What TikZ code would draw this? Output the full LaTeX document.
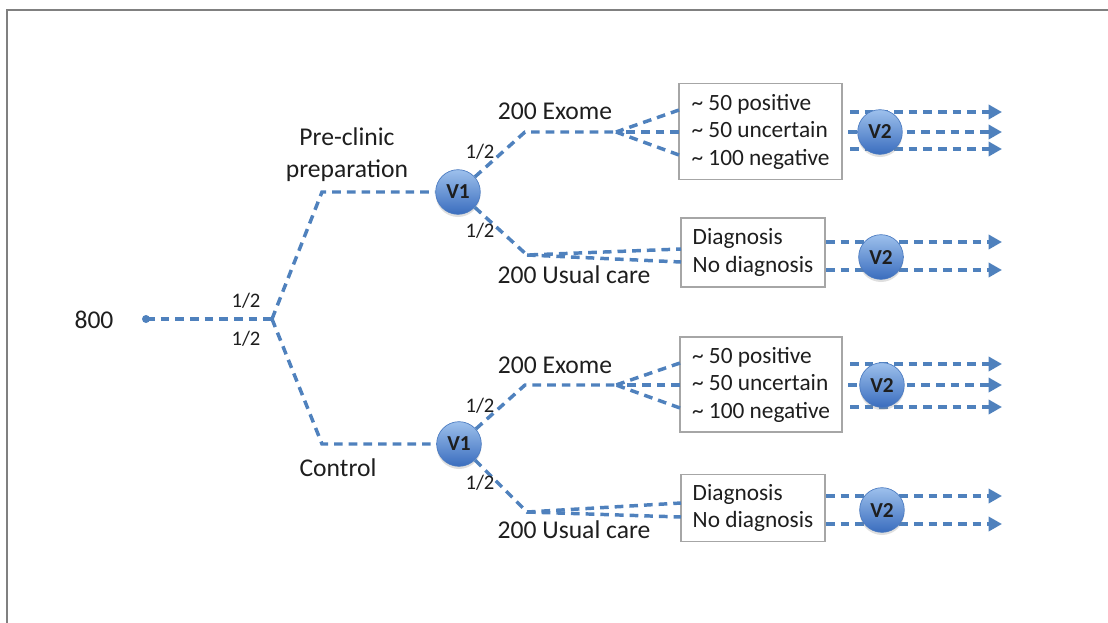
\documentclass[tikz,border=0pt]{standalone}
\usepackage{fontspec}
\setmainfont{Carlito}
\usetikzlibrary{arrows.meta,shadows}
\definecolor{flowblue}{HTML}{4F81BD}
\definecolor{framegray}{HTML}{808080}
\definecolor{boxgray}{HTML}{A6A6A6}
\definecolor{inkgray}{HTML}{1E1E1E}
\definecolor{balltop}{HTML}{9DC0EC}
\definecolor{ballbottom}{HTML}{3A6DBE}
\definecolor{ballrim}{HTML}{4A7AC0}
\begin{document}
\begin{tikzpicture}[x=0.75pt,y=-0.75pt,
  flow/.style={draw=flowblue, line width=2.6pt, dash pattern=on 6.5pt off 4.5pt},
  tipped/.style={-{Triangle[length=10pt,width=10.5pt]}},
  fantip/.style={-{Triangle[length=5pt,width=6pt]}},
  label/.style={font=\fontsize{19.2}{24}\selectfont, text=inkgray, inner sep=0pt, anchor=base},
  half/.style={font=\fontsize{15.5}{18}\selectfont, text=inkgray, inner sep=0pt, anchor=base},
  visit/.style={circle, minimum size=33.5pt, inner sep=0pt, top color=balltop,
    bottom color=ballbottom, draw=ballrim, line width=0.5pt, text=inkgray,
    font=\bfseries\fontsize{16}{18}\selectfont,
    drop shadow={shadow xshift=0pt, shadow yshift=-2pt, opacity=0.25}},
  outcome/.style={draw=boxgray, line width=0.9pt, fill=white, align=left,
    inner sep=0pt, font=\fontsize{17.5}{20.6}\selectfont, text=inkgray},
  startdot/.style={circle, fill=flowblue, minimum size=6pt, inner sep=0pt}
]
\useasboundingbox (0,0) rectangle (1108,622);

% frame
\draw[framegray, line width=1.6pt] (7,630) -- (7,10) -- (1115,10);

% ---------- nodes ----------
\node[startdot] (start) at (146,319) {};
\node[label] (n800) at (94,328) {800};
\coordinate (split) at (272,319);
\coordinate (upbend) at (322,192);
\coordinate (lobend) at (322,444);

\node[visit] (v1a) at (458,192) {V1};
\node[visit] (v1b) at (459,444) {V1};

\node[outcome, minimum width=163*0.75pt, minimum height=96*0.75pt] (box1) at (760.5,131.5)
  {\textasciitilde\ 50 positive\\ \textasciitilde\ 50 uncertain\\ \textasciitilde\ 100 negative};
\node[outcome, minimum width=144*0.75pt, minimum height=69*0.75pt] (box2) at (753,252.5)
  {Diagnosis\\ No diagnosis};
\node[outcome, minimum width=162*0.75pt, minimum height=95*0.75pt] (box3) at (761,384.5)
  {\textasciitilde\ 50 positive\\ \textasciitilde\ 50 uncertain\\ \textasciitilde\ 100 negative};
\node[outcome, minimum width=144*0.75pt, minimum height=67*0.75pt] (box4) at (753,508)
  {Diagnosis\\ No diagnosis};

% bends and fan points
\coordinate (exbend1) at (525,132);
\coordinate (fan1) at (616,132);
\coordinate (ucbend1) at (527,255);
\coordinate (exbend2) at (525,385);
\coordinate (fan2) at (616,385);
\coordinate (ucbend2) at (527,512);

% box inlets
\coordinate (b1u) at (679,110);
\coordinate (b1m) at (679,132);
\coordinate (b1l) at (679,155);
\coordinate (b2u) at (681,249);
\coordinate (b2l) at (681,262);
\coordinate (b3u) at (680,363);
\coordinate (b3m) at (680,385);
\coordinate (b3l) at (680,408);
\coordinate (b4u) at (681,503);
\coordinate (b4l) at (681,517);

% outlets and arrow ends
\coordinate (o1a) at (850,112);  \coordinate (e1a) at (1002,112);
\coordinate (o1b) at (848,132);  \coordinate (e1b) at (1002,132);
\coordinate (o1c) at (850,149);  \coordinate (e1c) at (1002,149);
\coordinate (o2a) at (826,242);  \coordinate (e2a) at (1002,242);
\coordinate (o2b) at (826,270);  \coordinate (e2b) at (1002,270);
\coordinate (o3a) at (850,364);  \coordinate (e3a) at (1002,364);
\coordinate (o3b) at (848,385);  \coordinate (e3b) at (1002,385);
\coordinate (o3c) at (850,407);  \coordinate (e3c) at (1002,407);
\coordinate (o4a) at (826,496);  \coordinate (e4a) at (1002,496);
\coordinate (o4b) at (826,524);  \coordinate (e4b) at (1002,524);

% ---------- connectors ----------
\draw[flow] (start.center) -- (split);
\draw[flow] (split) -- (upbend) -- (v1a);
\draw[flow] (split) -- (lobend) -- (v1b);

\draw[flow] (v1a) -- (exbend1) -- (fan1);
\draw[flow] (b1u) -- (fan1);
\draw[flow, fantip] (b1m) -- (fan1);
\draw[flow] (b1l) -- (fan1);
\draw[flow] (v1a) -- (ucbend1) -- (b2u);
\draw[flow] (ucbend1) -- (b2l);

\draw[flow] (v1b) -- (exbend2) -- (fan2);
\draw[flow] (b3u) -- (fan2);
\draw[flow, fantip] (b3m) -- (fan2);
\draw[flow] (b3l) -- (fan2);
\draw[flow] (v1b) -- (ucbend2) -- (b4u);
\draw[flow] (ucbend2) -- (b4l);

\foreach \o/\e in {o1a/e1a,o1b/e1b,o1c/e1c,o2a/e2a,o2b/e2b,o3a/e3a,o3b/e3b,o3c/e3c,o4a/e4a,o4b/e4b}
  \draw[flow, tipped] (\o) -- (\e);

% second visits sit on top of the outcome arrows
\node[visit] (v2a) at (880,132) {V2};
\node[visit] (v2b) at (881,257) {V2};
\node[visit] (v2c) at (882,385) {V2};
\node[visit] (v2d) at (882,510) {V2};

% ---------- labels ----------
\node[half] (hr1) at (246,307) {1/2};
\node[half] (hr2) at (246,345) {1/2};
\node[label, anchor=center, align=center] (prep) at (347,155) {Pre-clinic\\preparation};
\node[label] (ctrl) at (338,476) {Control};

\node[half] (ha1) at (480,158) {1/2};
\node[half] (ha2) at (480,237) {1/2};
\node[half] (hb1) at (480,412) {1/2};
\node[half] (hb2) at (480,489) {1/2};

\node[label] (ex1) at (555,119) {200 Exome};
\node[label] (uc1) at (574,283) {200 Usual care};
\node[label] (ex2) at (555,373) {200 Exome};
\node[label] (uc2) at (574,538) {200 Usual care};
\end{tikzpicture}
\end{document}
